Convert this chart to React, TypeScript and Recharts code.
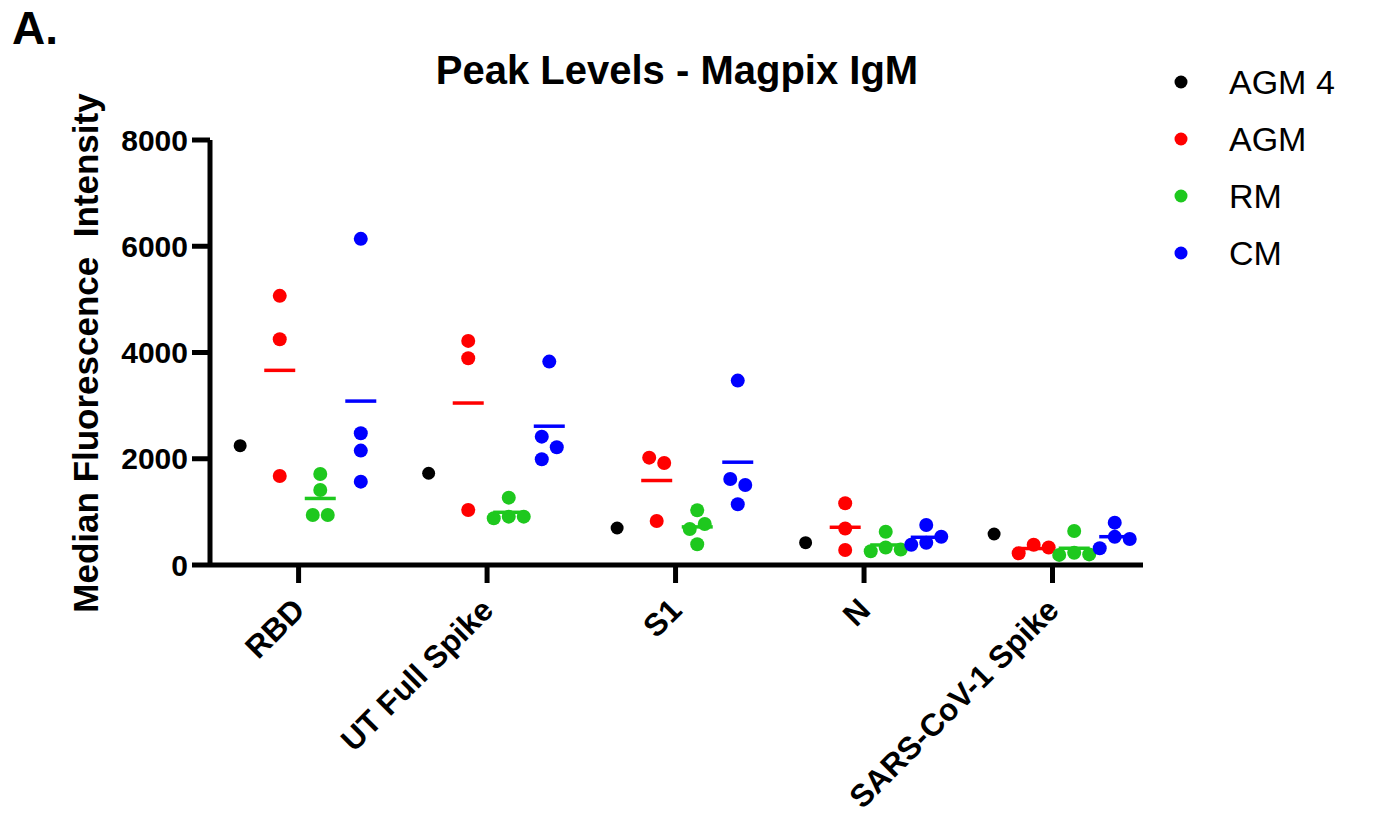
import { ScatterChart, Scatter, XAxis, YAxis } from 'recharts';

const categories = ['RBD', 'UT Full Spike', 'S1', 'N', 'SARS-CoV-1 Spike'];

// one value per antigen
const agm4Values = [2247, 1727, 697, 420, 584];
// per antigen, one value per animal
const agmValues = [
  [5066, 4250, 1676],
  [4218, 3892, 1036],
  [2021, 1921, 829],
  [1162, 686, 282],
  [380, 330, 220],
];
const rmValues = [
  [1714, 1412, 942, 942],
  [1268, 910, 910, 880],
  [1030, 772, 678, 390],
  [627, 330, 290, 260],
  [640, 230, 200, 190],
];
const cmValues = [
  [6139, 2480, 2153, 1569],
  [3829, 2416, 2216, 1990],
  [3471, 1620, 1507, 1143],
  [753, 533, 420, 380],
  [797, 530, 490, 314],
];
const yTicks = [0, 2000, 4000, 6000, 8000];

const FONT = '"Liberation Sans", Arial, Helvetica, sans-serif';
const BLACK = '#000000';
const RED = '#ff0000';
const GREEN = '#1ec81e';
const BLUE = '#0000ff';

const PLOT_W = 933;
const PLOT_H = 425;
const X_DOMAIN: [number, number] = [-0.47, 4.48];
const Y_MAX = 8000;
const pxPerX = PLOT_W / (X_DOMAIN[1] - X_DOMAIN[0]);
const pxPerY = PLOT_H / Y_MAX;
const DOT_R = 7;
const D = 14; // collision distance, px
const H = 7.5; // swarm step, px

// simple beeswarm so overlapping dots spread sideways like Prism does
function swarm(values: number[], center: number) {
  const order = values.map((_, i) => i).sort((a, b) => values[b] - values[a]);
  const offs = new Array(values.length).fill(0);
  const placed: { v: number; off: number }[] = [];
  let prevSide = -1;
  for (const i of order) {
    const v = values[i];
    const cands = [0];
    for (let k = 1; k <= 4; k++) {
      cands.push(prevSide < 0 ? k * H : -k * H, prevSide < 0 ? -k * H : k * H);
    }
    let chosen = cands[cands.length - 1];
    for (const c of cands) {
      if (placed.every((p) => Math.hypot(p.off - c, (p.v - v) * pxPerY) >= D)) {
        chosen = c;
        break;
      }
    }
    if (chosen !== 0) prevSide = Math.sign(chosen);
    placed.push({ v, off: chosen });
    offs[i] = chosen;
  }
  // recentre each chain of touching dots
  let start = 0;
  for (let k = 1; k <= order.length; k++) {
    const broken =
      k === order.length || (values[order[k - 1]] - values[order[k]]) * pxPerY >= D;
    if (broken) {
      if (k - start > 1) {
        const group = order.slice(start, k);
        const lo = Math.min(...group.map((i) => offs[i]));
        const hi = Math.max(...group.map((i) => offs[i]));
        group.forEach((i) => (offs[i] -= (lo + hi) / 2));
      }
      start = k;
    }
  }
  return values.map((v, i) => ({ x: center + offs[i] / pxPerX, y: v }));
}

const GROUP_OFFSET = { agm4: -0.31, agm: -0.1, rm: 0.115, cm: 0.33 };

const mean = (a: number[]) => a.reduce((s, v) => s + v, 0) / a.length;

const agm4Points = agm4Values.map((v, i) => ({ x: i + GROUP_OFFSET.agm4, y: v }));
const agmPoints = agmValues.flatMap((vals, i) => swarm(vals, i + GROUP_OFFSET.agm));
const rmPoints = rmValues.flatMap((vals, i) => swarm(vals, i + GROUP_OFFSET.rm));
const cmPoints = cmValues.flatMap((vals, i) => swarm(vals, i + GROUP_OFFSET.cm));
const agmMeans = agmValues.map((vals, i) => ({ x: i + GROUP_OFFSET.agm, y: mean(vals) }));
const rmMeans = rmValues.map((vals, i) => ({ x: i + GROUP_OFFSET.rm, y: mean(vals) }));
const cmMeans = cmValues.map((vals, i) => ({ x: i + GROUP_OFFSET.cm, y: mean(vals) }));

const dot = (color: string, r = DOT_R) => (props: any) =>
  <circle cx={props.cx} cy={props.cy} r={r} fill={color} />;

const meanBar = (color: string) => (props: any) =>
  <line x1={props.cx - 15.5} x2={props.cx + 15.5} y1={props.cy} y2={props.cy} stroke={color} strokeWidth={3.5} />;

const XTick = (props: any) => {
  const { x, y, payload } = props;
  return (
    <g transform={`translate(${x + 8},${y + 27})`}>
      <text textAnchor="end" transform="rotate(-45)" fill="#000" fontSize={31.5} fontWeight="bold" fontFamily={FONT}>
        {categories[payload.value]}
      </text>
    </g>
  );
};

const legendItems = [
  { name: 'AGM 4', color: BLACK },
  { name: 'AGM', color: RED },
  { name: 'RM', color: GREEN },
  { name: 'CM', color: BLUE },
];

export default function App() {
  const axisLine = { stroke: '#000', strokeWidth: 5 };
  return (
    <div style={{ position: 'absolute', left: 0, top: 0, width: 1375, height: 816, background: '#fff' }}>
      <ScatterChart width={1375} height={816} margin={{ top: 140, right: 232, bottom: 0, left: 0 }}>
        <XAxis
          type="number"
          dataKey="x"
          domain={X_DOMAIN}
          ticks={[0, 1, 2, 3, 4]}
          interval={0}
          allowDataOverflow
          height={251}
          axisLine={axisLine}
          tickLine={axisLine}
          tickSize={18}
          tickMargin={2}
          tick={<XTick />}
        />
        <YAxis
          type="number"
          dataKey="y"
          domain={[0, Y_MAX]}
          ticks={yTicks}
          interval={0}
          width={210}
          axisLine={axisLine}
          tickLine={axisLine}
          tickSize={18}
          tickMargin={4}
          tick={{ fill: '#000', fontSize: 30, fontWeight: 'bold', fontFamily: FONT }}
        />
        <Scatter name="AGM 4" data={agm4Points} fill={BLACK} shape={dot(BLACK, 6.5)} isAnimationActive={false} />
        <Scatter name="AGM" data={agmPoints} fill={RED} shape={dot(RED)} isAnimationActive={false} />
        <Scatter name="RM" data={rmPoints} fill={GREEN} shape={dot(GREEN)} isAnimationActive={false} />
        <Scatter name="CM" data={cmPoints} fill={BLUE} shape={dot(BLUE)} isAnimationActive={false} />
        <Scatter data={agmMeans} fill={RED} shape={meanBar(RED)} legendType="none" isAnimationActive={false} />
        <Scatter data={rmMeans} fill={GREEN} shape={meanBar(GREEN)} legendType="none" isAnimationActive={false} />
        <Scatter data={cmMeans} fill={BLUE} shape={meanBar(BLUE)} legendType="none" isAnimationActive={false} />
      </ScatterChart>
      <svg width={1375} height={816} style={{ position: 'absolute', left: 0, top: 0, pointerEvents: 'none' }}>
        <text x={12} y={44} fontSize={46} fontWeight="bold" fontFamily={FONT} fill="#000">A.</text>
        <text x={677} y={84} textAnchor="middle" fontSize={40} fontWeight="bold" fontFamily={FONT} fill="#000">
          Peak Levels - Magpix IgM
        </text>
        <text
          x={98}
          y={353}
          transform="rotate(-90 98 353)"
          textAnchor="middle"
          fontSize={35}
          fontWeight="bold"
          fontFamily={FONT}
          fill="#000"
          style={{ whiteSpace: 'pre' }}
        >
          {'Median Fluorescence  Intensity'}
        </text>
        {legendItems.map((it, i) => (
          <g key={it.name}>
            <circle cx={1181} cy={82 + i * 57} r={6.5} fill={it.color} />
            <text x={1229} y={93.5 + i * 57} fontSize={34} fontFamily={FONT} fill="#000">
              {it.name}
            </text>
          </g>
        ))}
      </svg>
    </div>
  );
}
